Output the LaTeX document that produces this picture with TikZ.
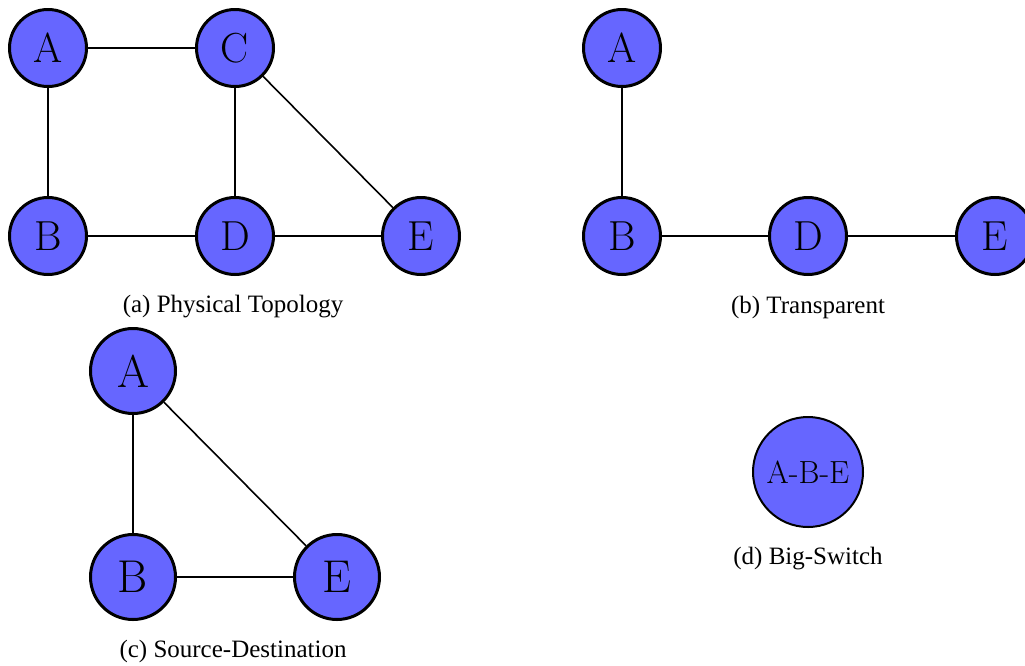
\documentclass[tikz,border=0pt]{standalone}
\usepackage{fontspec}
\newfontfamily\capfont{Liberation Serif}
\definecolor{nodeblue}{HTML}{6666FF}
\begin{document}
\begin{tikzpicture}[x=1pt,y=-1pt,
  vertex/.style={circle,draw=black,fill=nodeblue,line width=3pt,minimum size=77pt,inner sep=0pt,font=\fontsize{42}{42}\selectfont},
  bigvertex/.style={vertex,minimum size=85pt,font=\fontsize{46}{46}\selectfont},
  switchvertex/.style={circle,draw=black,fill=nodeblue,line width=2pt,minimum size=110pt,inner sep=0pt,font=\fontsize{32}{32}\selectfont},
  link/.style={line width=1.6pt},
  caption/.style={font=\capfont\fontsize{25}{25}\selectfont}]
\useasboundingbox (0,0) rectangle (1025,665);
\clip (0,0) rectangle (1025,665);
% (a) physical topology
\node[vertex] (aA) at (48,48) {A};
\node[vertex] (aC) at (235,48) {C};
\node[vertex] (aB) at (48,236) {B};
\node[vertex] (aD) at (235,236) {D};
\node[vertex] (aE) at (421,236) {E};
\draw[link] (aA) -- (aC);
\draw[link] (aA) -- (aB);
\draw[link] (aC) -- (aD);
\draw[link] (aC) -- (aE);
\draw[link] (aB) -- (aD);
\draw[link] (aD) -- (aE);
\node[caption] (capa) at (233,307) {(a) Physical Topology};
% (b) transparent
\node[vertex] (bA) at (622,48) {A};
\node[vertex] (bB) at (622,236) {B};
\node[vertex] (bD) at (808,236) {D};
\node[vertex] (bE) at (995,236) {E};
\draw[link] (bA) -- (bB);
\draw[link] (bB) -- (bD);
\draw[link] (bD) -- (bE);
\node[caption] (capb) at (808,307) {(b) Transparent};
% (c) source-destination
\node[bigvertex] (cA) at (133,371) {A};
\node[bigvertex] (cB) at (133,577) {B};
\node[bigvertex] (cE) at (337,577) {E};
\draw[link] (cA) -- (cB);
\draw[link] (cA) -- (cE);
\draw[link] (cB) -- (cE);
\node[caption] (capc) at (233,651) {(c) Source-Destination};
% (d) big switch
\node[switchvertex] (dABE) at (808,472) {A-B-E};
\node[caption] (capd) at (808,559) {(d) Big-Switch};
\end{tikzpicture}
\end{document}
